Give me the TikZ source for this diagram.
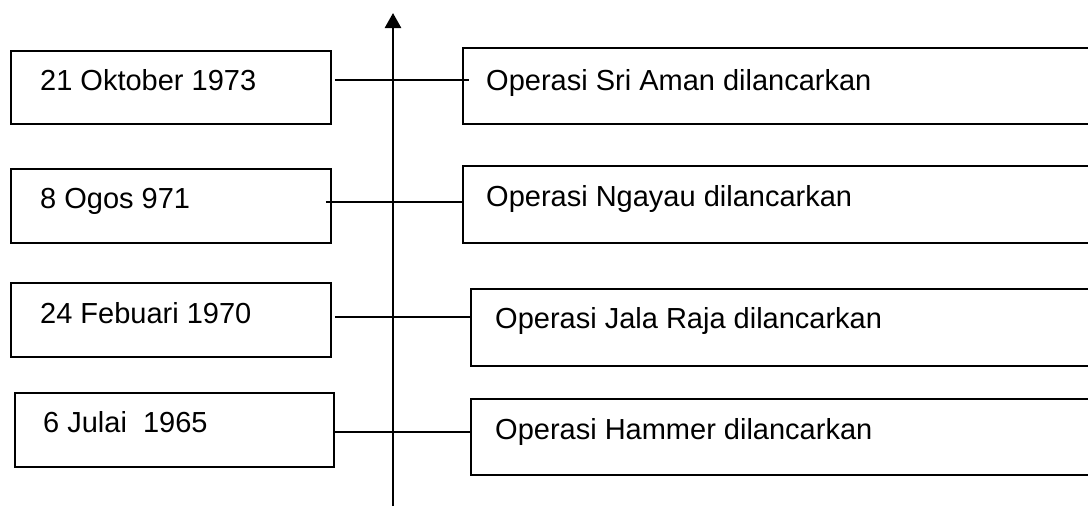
\documentclass[tikz,border=0pt]{standalone}
\usepackage{fontspec}
\setmainfont{Liberation Sans}
\usetikzlibrary{arrows.meta}
\begin{document}
\begin{tikzpicture}[x=1pt,y=-1pt,
  box/.style={draw=black,line width=1.8pt,inner sep=0pt,fill=none},
  datetxt/.style={anchor=base west,inner sep=0pt,font=\fontsize{29}{34}\selectfont},
  optxt/.style={anchor=base west,inner sep=0pt,font=\fontsize{29}{34}\selectfont},
  link/.style={line width=2.2pt},
  axis/.style={line width=2.6pt,-{Triangle[length=15pt,width=16pt]}}]
\useasboundingbox (0,0) rectangle (1088,507);
% axis
\coordinate (axbot) at (393,506);
\coordinate (axtop) at (393,13);
\draw[axis] (axbot) -- (axtop);
% left boxes
\node[box,minimum width=320pt,minimum height=73pt] (L1) at (171,87.5) {};
\node[box,minimum width=320pt,minimum height=74pt] (L2) at (171,206) {};
\node[box,minimum width=320pt,minimum height=74pt] (L3) at (171,320) {};
\node[box,minimum width=319pt,minimum height=74pt] (L4) at (174.5,430) {};
% right boxes
\node[box,minimum width=632pt,minimum height=76pt] (R1) at (779,86) {};
\node[box,minimum width=632pt,minimum height=77pt] (R2) at (779,204.5) {};
\node[box,minimum width=624pt,minimum height=77pt] (R3) at (783,327.5) {};
\node[box,minimum width=624pt,minimum height=76pt] (R4) at (783,437) {};
% texts
\node[datetxt] (t1) at (40,90) {21 Oktober 1973};
\node[datetxt] (t2) at (40,208) {8 Ogos 971};
\node[datetxt] (t3) at (40,323) {24 Febuari 1970};
\node[datetxt] (t4) at (43,432) {6 Julai\ \ 1965};
\node[optxt] (o1) at (486,90) {Operasi Sri Aman dilancarkan};
\node[optxt] (o2) at (486,206) {Operasi Ngayau dilancarkan};
\node[optxt] (o3) at (495,328) {Operasi Jala Raja dilancarkan};
\node[optxt] (o4) at (495,439) {Operasi Hammer dilancarkan};
% connector rows
\coordinate (y1) at (0,80);
\coordinate (y2) at (0,202);
\coordinate (y3) at (0,317);
\coordinate (y4) at (0,432);
\draw[link] ([xshift=3pt]L1.east |- y1) -- ([xshift=7pt]R1.west |- y1);
\draw[link] ([xshift=-6pt]L2.east |- y2) -- (R2.west |- y2);
\draw[link] ([xshift=3pt]L3.east |- y3) -- (R3.west |- y3);
\draw[link] (L4.east |- y4) -- (R4.west |- y4);
\end{tikzpicture}
\end{document}
